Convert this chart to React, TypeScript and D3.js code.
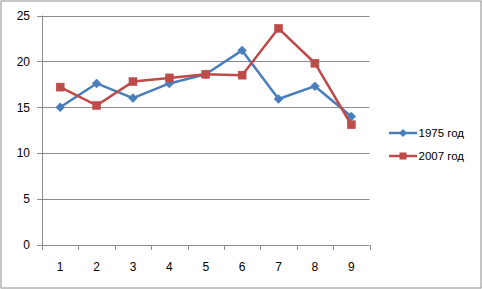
import React from "react";
import * as d3 from "d3";

const categories = ["1", "2", "3", "4", "5", "6", "7", "8", "9"];
const series1975 = [15.0, 17.6, 16.0, 17.6, 18.6, 21.2, 15.9, 17.3, 14.0];
const series2007 = [17.2, 15.2, 17.8, 18.2, 18.6, 18.5, 23.6, 19.8, 13.1];
const yTicks = [0, 5, 10, 15, 20, 25];
const seriesNames = ["1975 год", "2007 год"];

const W = 482, H = 289;
const left = 42, right = 369.5, top = 15.5, bottom = 245;
const font = "'Liberation Sans', Arial, sans-serif";

export default function App() {
  const x = d3.scaleBand<string>().domain(categories).range([left, right]);
  const y = d3.scaleLinear().domain([0, 25]).range([bottom, top]);
  const cx = (c: string) => (x(c) as number) + x.bandwidth() / 2;
  const line = d3.line<number>().x((_, i) => cx(categories[i])).y((v) => y(v));
  const blue = "#4A7EBB";
  const red = "#BE4B48";
  const grid = "#8C8C8C";
  const boundaries = categories.map((c) => x(c) as number).concat([right]);
  const diamond = (px: number, py: number, r: number) =>
    `M${px},${py - r}L${px + r},${py}L${px},${py + r}L${px - r},${py}Z`;
  return (
    <svg width={W} height={H} style={{ position: "absolute", left: 0, top: 0 }}>
      <rect x={0} y={0} width={W} height={H} fill="#fff" />
      <rect x={1} y={1} width={W - 2} height={H - 2} fill="none" stroke="#8C8C8C" strokeWidth={1} />
      {yTicks.map((t) => (
        <g key={t}>
          {t > 0 && (
            <line x1={left} x2={right} y1={Math.round(y(t)) + 0.5} y2={Math.round(y(t)) + 0.5} stroke={grid} strokeWidth={1} />
          )}
          <line x1={left - 5} x2={left} y1={Math.round(y(t)) + 0.5} y2={Math.round(y(t)) + 0.5} stroke={grid} />
          <text x={30} y={y(t)} dy="0.35em" textAnchor="end" fontFamily={font} fontSize={12} fill="#000">
            {t}
          </text>
        </g>
      ))}
      <line x1={left + 0.5} x2={left + 0.5} y1={top} y2={bottom + 0.5} stroke={grid} />
      <line x1={left} x2={right} y1={Math.round(bottom) + 0.5} y2={Math.round(bottom) + 0.5} stroke={grid} />
      {boundaries.map((b, i) => (
        <line key={i} x1={Math.round(b) + 0.5} x2={Math.round(b) + 0.5} y1={bottom} y2={bottom + 5} stroke={grid} />
      ))}
      {categories.map((c) => (
        <text key={c} x={cx(c)} y={266.5} dy="0.35em" textAnchor="middle" fontFamily={font} fontSize={12} fill="#000">
          {c}
        </text>
      ))}
      <path d={line(series1975) as string} fill="none" stroke={blue} strokeWidth={2.5} strokeLinejoin="round" />
      {series1975.map((v, i) => (
        <path key={i} d={diamond(cx(categories[i]), y(v), 4.5)} fill={blue} stroke={blue} strokeWidth={0.5} />
      ))}
      <path d={line(series2007) as string} fill="none" stroke={red} strokeWidth={2.5} strokeLinejoin="round" />
      {series2007.map((v, i) => (
        <rect key={i} x={cx(categories[i]) - 4} y={y(v) - 4} width={8} height={8} fill={red} stroke={red} strokeWidth={0.5} />
      ))}
      {/* legend */}
      <g>
        <line x1={389} x2={417} y1={133} y2={133} stroke={blue} strokeWidth={2.5} />
        <path d={diamond(403, 133, 4)} fill={blue} />
        <text x={418.5} y={133} dy="0.35em" fontFamily={font} fontSize={11.5} fill="#000">{seriesNames[0]}</text>
        <line x1={389} x2={417} y1={156} y2={156} stroke={red} strokeWidth={2.5} />
        <rect x={399.5} y={152.5} width={7} height={7} fill={red} />
        <text x={418.5} y={156} dy="0.35em" fontFamily={font} fontSize={11.5} fill="#000">{seriesNames[1]}</text>
      </g>
    </svg>
  );
}
